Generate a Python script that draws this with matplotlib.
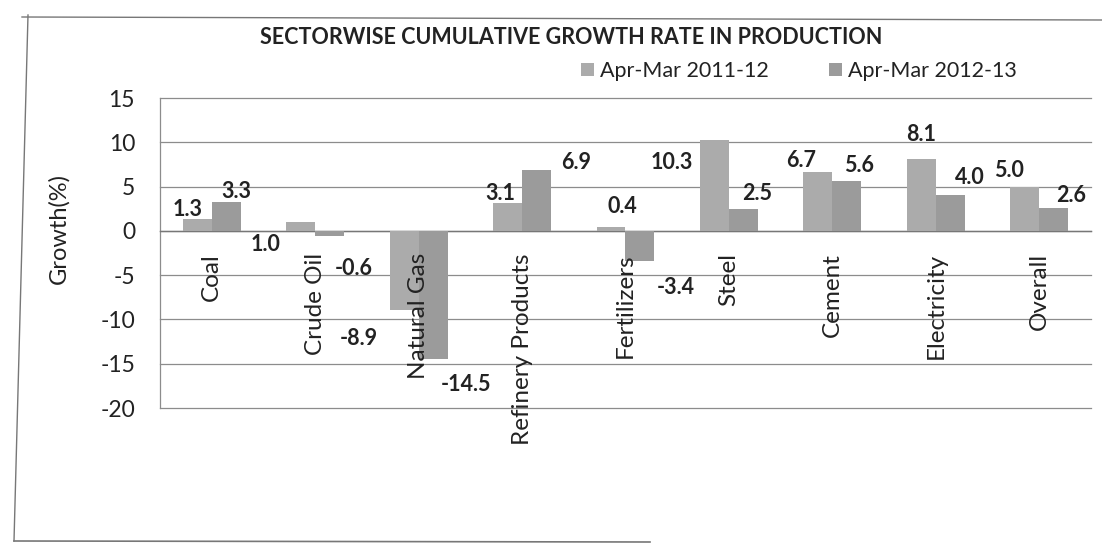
import matplotlib
matplotlib.use("Agg")
import matplotlib.pyplot as plt
import numpy as np
from matplotlib.patches import Patch
from matplotlib.lines import Line2D

# ---- data ----
categories = ["Coal", "Crude Oil", "Natural Gas", "Refinery Products", "Fertilizers",
              "Steel", "Cement", "Electricity", "Overall"]
series_names = ["Apr-Mar 2011-12", "Apr-Mar 2012-13"]
growth_2011_12 = [1.3, 1.0, -8.9, 3.1, 0.4, 10.3, 6.7, 8.1, 5.0]
growth_2012_13 = [3.3, -0.6, -14.5, 6.9, -3.4, 2.5, 5.6, 4.0, 2.6]
yticks = [15, 10, 5, 0, -5, -10, -15, -20]

# label placement as in the original (offset from category centre, value level)
lab1_dx = [-0.23, -0.48, -0.58, -0.21, -0.03, -0.55, -0.30, -0.14, -0.29]
lab1_y = [2.4, -1.5, -12.1, 4.2, 2.8, 7.7, 7.9, 10.9, 6.8]
lab2_dx = [0.24, 0.37, 0.46, 0.52, 0.49, 0.27, 0.26, 0.33, 0.31]
lab2_y = [4.5, -4.3, -17.3, 7.7, -6.4, 4.2, 7.4, 6.0, 4.0]

FONT = "Lato"
TXT = "#222222"
GRID = "#8c8c8c"
C1 = "#ababab"
C2 = "#9b9b9b"

fig = plt.figure(figsize=(11.02, 5.46), dpi=100)
fig.patch.set_facecolor("white")
ax = fig.add_axes([0.1452, 0.2527, 0.8448, 0.5678])

x = np.arange(len(categories))
w = 0.28
ax.bar(x - w / 2, growth_2011_12, w, color=C1, zorder=3, label=series_names[0])
ax.bar(x + w / 2, growth_2012_13, w, color=C2, zorder=3, label=series_names[1])

ax.set_xlim(-0.5, len(categories) - 0.5)
ax.set_ylim(-20, 15)
ax.set_yticks(yticks)
ax.set_yticklabels([str(v) for v in yticks], fontfamily=FONT, fontsize=16.5, color=TXT)
ax.yaxis.grid(True, color=GRID, linewidth=0.9, zorder=0)
ax.set_axisbelow(True)
for gl in ax.get_ygridlines():
    gl.set_clip_on(False)

ax.spines["top"].set_visible(False)
ax.spines["right"].set_visible(False)
ax.spines["left"].set_color(GRID)
ax.spines["left"].set_linewidth(0.9)
ax.spines["bottom"].set_position(("data", 0))
ax.spines["bottom"].set_color("#777777")
ax.spines["bottom"].set_linewidth(1.0)

ax.set_xticks(x)
ax.set_xticklabels([])
ax.tick_params(axis="x", length=0)
ax.tick_params(axis="y", length=0, pad=18)

# category labels drawn as text so they sit above the bars (as in the original)
for i, name in enumerate(categories):
    ax.annotate(name, xy=(x[i], 0), xytext=(0, -16), textcoords="offset points",
                rotation=90, ha="center", va="top", fontfamily=FONT, fontsize=17.5,
                color=TXT, zorder=6, annotation_clip=False)

ax.set_ylabel("Growth(%)", fontfamily=FONT, fontsize=17, color=TXT)
ax.yaxis.set_label_coords(-0.097, 0.58)

for i in range(len(categories)):
    ax.text(x[i] + lab1_dx[i], lab1_y[i], f"{growth_2011_12[i]:.1f}", ha="center",
            va="center", fontfamily=FONT, fontsize=15.5, fontweight="bold", color=TXT,
            zorder=5)
    ax.text(x[i] + lab2_dx[i], lab2_y[i], f"{growth_2012_13[i]:.1f}", ha="center",
            va="center", fontfamily=FONT, fontsize=15.5, fontweight="bold", color=TXT,
            zorder=5)

fig.text(0.518, 1 - 37 / 546, "SECTORWISE CUMULATIVE GROWTH RATE IN PRODUCTION",
         ha="center", va="center", fontfamily=FONT, fontsize=15.5, fontweight="bold",
         color=TXT)

handles = [Patch(facecolor=C1, edgecolor="none"), Patch(facecolor=C2, edgecolor="none")]
fig.legend(handles, series_names, loc="center", bbox_to_anchor=(0.725, 1 - 71 / 546),
           ncol=2, frameon=False, prop={"family": FONT, "size": 15.5},
           handlelength=0.6, handleheight=0.6, handletextpad=0.3, columnspacing=2.8,
           labelcolor=TXT)

# outer chart border (scanned page frame)
fig.add_artist(Line2D([22 / 1102, 1.0], [1 - 17 / 546, 1 - 20 / 546],
                      transform=fig.transFigure, color="#777777", linewidth=1.0))
fig.add_artist(Line2D([28 / 1102, 14 / 1102], [1 - 15 / 546, 1 - 541 / 546],
                      transform=fig.transFigure, color="#777777", linewidth=1.0))
fig.add_artist(Line2D([14 / 1102, 650 / 1102], [1 - 541 / 546, 1 - 542 / 546],
                      transform=fig.transFigure, color="#777777", linewidth=1.2))

fig.savefig("out.png", dpi=100, facecolor="white")
